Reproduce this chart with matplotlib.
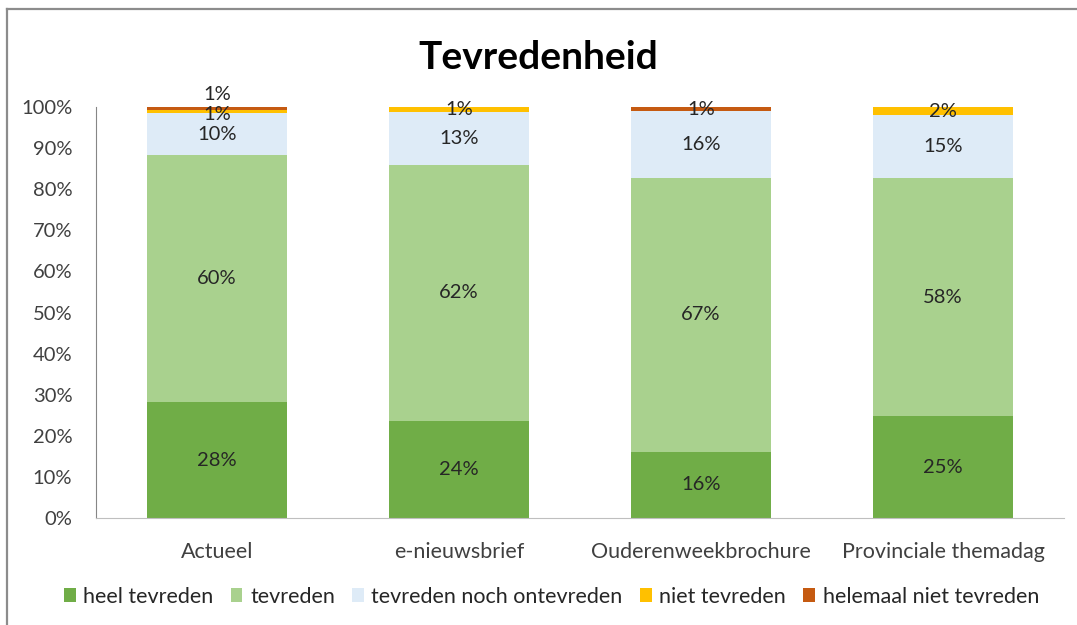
import matplotlib
matplotlib.use("Agg")
import matplotlib.pyplot as plt
from matplotlib.patches import Patch
from matplotlib.lines import Line2D
import numpy as np

plt.rcParams['font.family'] = ['Lato', 'DejaVu Sans']

# ---- Data (share of respondents, %) ----
categories = ['Actueel', 'e-nieuwsbrief', 'Ouderenweekbrochure', 'Provinciale themadag']
series_names = ['heel tevreden', 'tevreden', 'tevreden noch ontevreden',
                'niet tevreden', 'helemaal niet tevreden']
heel_tevreden = [28.2, 23.6, 16.1, 24.8]
tevreden = [60.1, 62.3, 66.6, 57.9]
neutraal = [10.2, 12.9, 16.3, 15.3]
niet_tevreden = [0.8, 1.2, 0.0, 2.0]
helemaal_niet = [0.7, 0.0, 1.0, 0.0]
colors = ['#70ad47', '#a9d18e', '#deebf7', '#ffc000', '#c55a11']

series = [heel_tevreden, tevreden, neutraal, niet_tevreden, helemaal_niet]

fig = plt.figure(figsize=(10.77, 6.25), dpi=100)
ax = fig.add_axes([0.0891, 0.1712, 0.8988, 0.6576])

x = np.arange(len(categories))
bottom = np.zeros(len(categories))
last_small = [None] * len(categories)  # previous small label in each bar
for name, vals, col in zip(series_names, series, colors):
    vals = np.array(vals)
    ax.bar(x, vals / 100, width=0.575, bottom=bottom / 100, color=col,
           label=name, zorder=2)
    for i, (xi, v, b) in enumerate(zip(x, vals, bottom)):
        if v <= 0:
            continue
        yc = b + v / 2
        t = ax.text(xi, yc / 100, f"{v:.0f}%", ha='center', va='center',
                    fontsize=14.5, color='#262626', zorder=3, clip_on=False)
        if v < 1.5:
            prev = last_small[i]
            if prev is not None:
                # two tiny segments stacked: nudge the labels apart
                prev.set_y(prev.get_position()[1] - 0.008)
                t.set_y(yc / 100 + 0.033)
            last_small[i] = t
        else:
            last_small[i] = None
    bottom += vals

ax.set_xlim(-0.5, len(categories) - 0.5)
ax.set_ylim(0, 1)
yt = np.arange(0, 1.01, 0.1)
ax.set_yticks(yt)
ax.set_yticklabels([f"{int(round(t * 100))}%" for t in yt])
ax.set_xticks(x)
ax.set_xticklabels(categories)
ax.tick_params(axis='x', length=0, labelsize=15.5, colors='#404040', pad=17)
ax.tick_params(axis='y', length=0, labelsize=14.5, colors='#404040', pad=17)
for s in ['top', 'right']:
    ax.spines[s].set_visible(False)
ax.spines['left'].set_color('#868686')
ax.spines['bottom'].set_color('#bfbfbf')

fig.text(0.5, 0.908, 'Tevredenheid', ha='center', va='center',
         fontsize=28, fontweight='bold', color='black')

handles = [Patch(facecolor=c, edgecolor='none') for c in colors]
fig.legend(handles, series_names, loc='center', bbox_to_anchor=(0.512, 0.045),
           ncol=5, frameon=False, fontsize=15.5, handlelength=0.55, handleheight=0.6,
           handletextpad=0.35, columnspacing=0.8, labelcolor='#262626')

# outer chart border (only top/left visible in the crop)
fig.add_artist(Line2D([0.0065, 0.0065], [0, 0.986], color='#8c8c8c', lw=1.6,
                      transform=fig.transFigure))
fig.add_artist(Line2D([0.0065, 1.0], [0.986, 0.986], color='#8c8c8c', lw=1.6,
                      transform=fig.transFigure))

fig.savefig('out.png', dpi=100)
